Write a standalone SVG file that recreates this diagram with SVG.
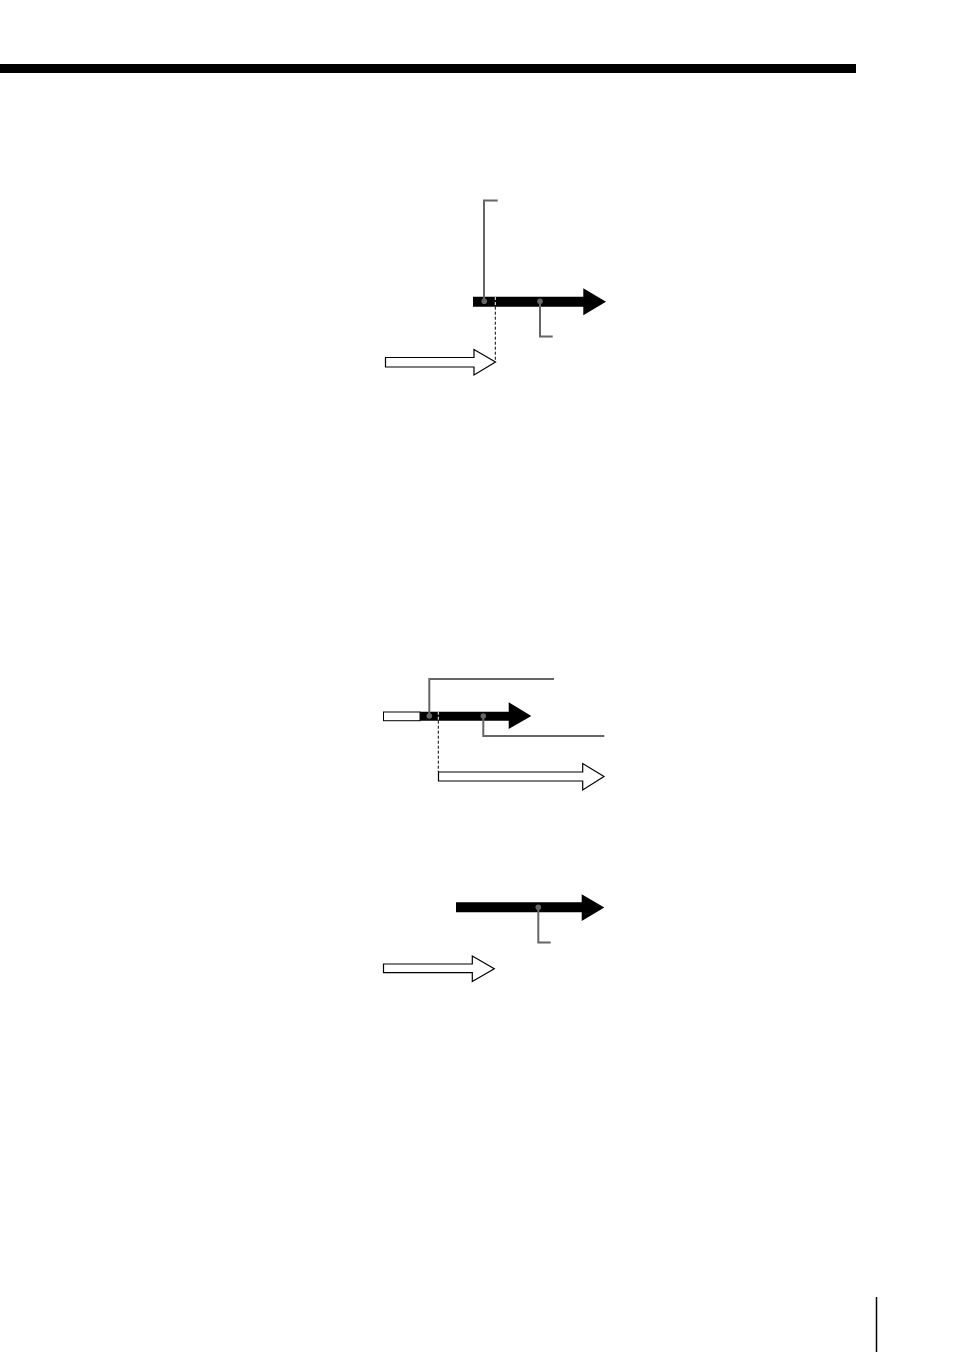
<svg xmlns="http://www.w3.org/2000/svg" width="954" height="1352" viewBox="0 0 954 1352">
<style>
.blk{fill:#000;stroke:none}
.wht{fill:#fff;stroke:#000;stroke-width:1.2;stroke-linejoin:miter}
.lead{fill:none;stroke:#666;stroke-width:2}
.dot{fill:#666}
.dash{fill:none;stroke:#000;stroke-width:1;stroke-dasharray:3,2}
.wdash{fill:none;stroke:#fff;stroke-width:1;stroke-dasharray:3,2}
</style>
<rect x="0" y="64" width="856" height="9" fill="#000"/>
<line x1="876.5" y1="1297" x2="876.5" y2="1352" stroke="#000" stroke-width="1.5"/>

<g id="diagram1">
  <g id="d1-black-arrow"><polygon class="blk" points="473,296.7 583.3,296.7 583.3,288.3 606,301.7 583.3,315.3 583.3,306.7 473,306.7"/></g>
  <g id="d1-white-arrow"><polygon class="wht" points="385.5,357.5 474,357.5 474,349.5 495.5,362 474,375 474,367 385.5,367"/></g>
</g>
<g id="diagram2">
  <g id="d2-bar"><rect x="383.5" y="712" width="36.5" height="8.7" fill="#fff" stroke="#000" stroke-width="1"/>
  <polygon class="blk" points="420,711.7 508.7,711.7 508.7,702.3 531.3,716 508.7,729 508.7,720.7 420,720.7"/></g>
  <g id="d2-white-arrow"><polygon class="wht" points="438.5,772 582.7,772 582.7,763.5 604,776.5 582.7,790 582.7,781 438.5,781"/></g>
</g>
<g id="diagram3">
  <g id="d3-black-arrow"><polygon class="blk" points="456,902.3 581.7,902.3 581.7,894.3 604.3,907.5 581.7,921 581.7,912.3 456,912.3"/></g>
  <g id="d3-white-arrow"><polygon class="wht" points="383.5,964 472.3,964 472.3,956 494.3,968.7 472.3,981.5 472.3,972.7 383.5,972.7"/></g>
</g>

<g id="connectors">
  <polyline class="lead" points="497.7,200.5 484,200.5 484,301"/>
  <circle class="dot" cx="484.3" cy="301.3" r="2.8"/>
  <polyline class="lead" points="540,301 540,336.5 552.7,336.5"/>
  <circle class="dot" cx="540" cy="301.3" r="2.8"/>
  <line class="wdash" x1="495.3" y1="297" x2="495.3" y2="306.7"/>
  <line class="dash" x1="495.3" y1="306.7" x2="495.3" y2="361.5"/>

  <polyline class="lead" points="554,679 429.3,679 429.3,716"/>
  <circle class="dot" cx="429.3" cy="716" r="2.8"/>
  <polyline class="lead" points="483.3,716 483.3,736 604.3,736"/>
  <circle class="dot" cx="483.3" cy="716" r="2.8"/>
  <line class="wdash" x1="438.3" y1="711.7" x2="438.3" y2="720.7"/>
  <line class="dash" x1="438.3" y1="720.7" x2="438.3" y2="772"/>

  <polyline class="lead" points="538.3,907 538.3,942.5 550.7,942.5"/>
  <circle class="dot" cx="538.3" cy="907.3" r="2.8"/>
</g>
</svg>
